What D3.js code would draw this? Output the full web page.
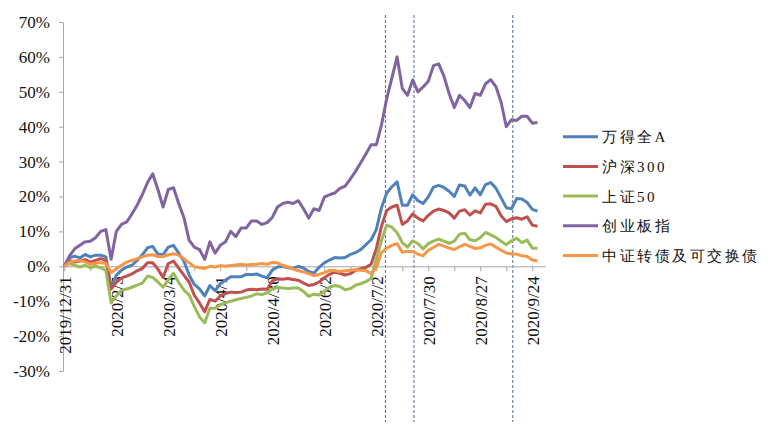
<!DOCTYPE html>
<html>
<head>
<meta charset="utf-8">
<script src="https://cdn.jsdelivr.net/npm/d3@7/dist/d3.min.js"></script>
<style>
  body { margin: 0; background: #fff; }
</style>
</head>
<body>
<div id="chart"></div>
<script>
// 交易日序号（每两个交易日取一个点）
const sampleDays = [0, 2, 4, 6, 8, 10, 12, 14, 16, 18, 20, 22, 24, 26, 28, 30, 32, 34, 36, 38,
  40, 42, 44, 46, 48, 50, 52, 54, 56, 58, 60, 62, 64, 66, 68, 70, 72, 74, 76, 78,
  80, 82, 84, 86, 88, 90, 92, 94, 96, 98, 100, 102, 104, 106, 108, 110, 112, 114, 116, 118,
  120, 122, 124, 126, 128, 130, 132, 134, 136, 138, 140, 142, 144, 146, 148, 150, 152, 154, 156, 158,
  160, 162, 164, 166, 168, 170, 172, 174, 176, 178, 180, 182];

// 坐标轴标签：每20个交易日一个
const tickDays = [0, 20, 40, 60, 80, 100, 120, 140, 160, 180];
const tickLabels = ["2019/12/31", "2020/2/5", "2020/3/4", "2020/4/1", "2020/4/30",
  "2020/6/2", "2020/7/2", "2020/7/30", "2020/8/27", "2020/9/24"];

// 虚线标记所在位置（交易日序号）
const eventDays = [123.5, 134.5, 172.5];

const seriesNames = ["万得全A", "沪深300", "上证50", "创业板指", "中证转债及可交换债"];
const seriesColors = ["#4F81BD", "#C0504D", "#9BBB59", "#8064A2", "#F79646"];

// 累计涨跌幅 (%)
const windA = [0, 2.5, 2.9, 2.4, 3.4, 2.7, 3.2, 3.2, 2.7, -6,
  -2.6, -1.1, -0.2, 0.3, 1.7, 3.3, 5.3, 5.7, 3.5, 3.3,
  5.5, 6, 3.8, 1.5, -2.5, -5.2, -6.5, -8.5, -5.5, -7,
  -5, -4, -3, -3, -3, -2.3, -2.4, -2.2, -2.8, -3.3,
  -1.1, -0.2, 0, -0.4, -0.6, 0, -0.5, -1.5, -2, -0.3,
  1, 1.8, 2.5, 2.4, 2.5, 3.4, 3.9, 4.8, 6.2, 7.6,
  10.5, 16.8, 21, 22.8, 24.2, 17.5, 17.5, 20.5, 18.8, 18,
  19.9, 22.7, 23.2, 22.6, 21.5, 20, 23.3, 23, 20.4, 22.5,
  20.5, 23.4, 24, 22.4, 19.6, 16.8, 16.5, 19.4, 19.3, 18.3,
  16.3, 15.8];

const hs300 = [0, 1.7, 1.2, 1.5, 1.9, 1.2, 1.7, 2.2, 1.7, -6.5,
  -4.6, -3.3, -2.8, -2.2, -1.3, -0.6, 1, 1, -0.8, -3.2,
  0.8, 1.5, -0.5, -2.5, -4.5, -8.3, -10.5, -13, -9.5, -10,
  -8.5, -7.8, -7.4, -7.5, -7.4, -6.8, -6.6, -6.7, -6.5, -6.6,
  -4.2, -3.6, -3.7, -3.5, -3.8, -4, -4.8, -5.5, -5.2, -4.5,
  -3.3, -2.3, -1.7, -2, -2.5, -2.1, -1.2, -0.7, -0.3, 0.6,
  5, 11.5, 16, 17, 17.5, 12, 13, 15, 13.8, 13,
  14.6, 15.8, 16.4, 16, 15.3, 13.8, 15.8, 16.2, 14.7, 15.9,
  15.3, 17.8, 17.9, 17.2, 14.5, 12.8, 13.6, 13.9, 13.5, 14.2,
  11.8, 11.5];

const sz50 = [0, 0.8, 0.3, -0.2, 0.3, -0.4, 0, -0.4, -1.2, -10.5,
  -8.5, -6.9, -6.5, -6, -5.4, -4.8, -2.8, -3.2, -4.5, -6,
  -3.8, -2, -4.6, -6.8, -8.2, -11.5, -14.5, -16.2, -12, -12,
  -11, -10.5, -10, -9.6, -9.2, -8.9, -8.5, -7.9, -8.1, -7.6,
  -6.5, -6, -6.2, -6.4, -6.2, -6.2, -7.2, -8.6, -8, -8.2,
  -7.2, -6, -5.5, -5.8, -6.7, -6.4, -5.4, -5, -4.4, -3.5,
  2, 7.4, 11.8, 11.2, 9.6, 6.8, 5.5, 7.3, 6.5, 5,
  6.5, 7.2, 7.8, 7.2, 6.6, 7.2, 9.2, 9.5, 7.6, 7.3,
  8.2, 9.7, 9, 8.3, 7.2, 6.2, 7.3, 8, 6.8, 7.5,
  5.2, 5.2];

const cyb = [0, 3, 5, 6, 7, 7.2, 8.2, 10, 10.5, 2,
  10, 12, 12.7, 15, 17.5, 20.5, 24, 26.5, 22, 17,
  22, 22.5, 18, 14, 7.5, 5.5, 4.8, 2, 7, 3.8,
  6, 7, 10, 8.5, 11, 11, 13, 13, 12, 12.5,
  14, 17, 18, 18.4, 18, 18.8, 16.5, 13.8, 16.5, 16,
  19.8, 20.5, 21, 22.3, 23, 25, 27.2, 29.7, 32.2, 34.8,
  34.8, 40.5, 48, 54, 60, 51, 49, 53.4, 50, 51.4,
  53, 57.5, 58, 54.5, 49.5, 45.5, 49, 47.5, 45.5, 49.5,
  49, 52.3, 53.5, 51.5, 47, 40, 42, 41.8, 43, 43,
  41, 41.2];

const cbond = [0, 1.2, 1.5, 1.7, 1.3, 0.6, 0.9, 1.1, 0.8, -1.8,
  -0.7, 0.3, 1.2, 1.7, 2.2, 2.7, 3.2, 3.3, 2.8, 2.8,
  3.3, 3.6, 3.2, 2.2, 1, -0.1, -0.4, -0.6, 0, -0.2,
  0.2, 0, 0.2, 0.4, 0.6, 0.4, 0.5, 0.6, 0.8, 0.6,
  1.1, 1, 0.3, -0.2, -0.8, -1.3, -1.6, -2.1, -2.7, -2.3,
  -1.8, -1.2, -1.2, -1.5, -1.3, -1.1, -1, -1.1, -1.3, -2,
  -0.5, 4, 5.2, 6, 6.5, 4, 4.3, 4.2, 3.5, 3,
  4.6, 5.4, 6.3, 5.8, 5.2, 4.8, 5.6, 6.3, 5.7, 5.1,
  5.3, 6, 6.4, 5.5, 4.6, 3.8, 3.5, 3.5, 3, 2.8,
  1.8, 1.5];

const yTicks = [-30, -20, -10, 0, 10, 20, 30, 40, 50, 60, 70];

const width = 770, height = 434;
const serif = '"Liberation Serif"';

const svg = d3.select("#chart").append("svg")
  .attr("width", width)
  .attr("height", height);

const x = d3.scaleLinear().domain([0, 185]).range([64.3, 545.3]);
const y = d3.scaleLinear().domain([-30, 70]).range([371, 22]);

// 纵轴
const yAxis = svg.append("g")
  .attr("transform", "translate(63,0)")
  .call(d3.axisLeft(y).tickValues(yTicks).tickSize(4).tickSizeOuter(0).tickPadding(9)
    .tickFormat(d => d + "%"));
yAxis.attr("font-family", "Liberation Serif");
yAxis.select(".domain").attr("stroke", "#a6a6a6");
yAxis.selectAll(".tick line").attr("stroke", "#a6a6a6");
yAxis.selectAll("text")
  .attr("fill", "#111")
  .style("font-family", serif)
  .style("font-size", "17px");

// 虚线标记
svg.append("g").selectAll("line")
  .data(eventDays)
  .join("line")
  .attr("x1", d => x(d)).attr("x2", d => x(d))
  .attr("y1", 15).attr("y2", 422)
  .attr("stroke", "#4a6a8e")
  .attr("stroke-width", 1)
  .attr("stroke-dasharray", "3,2");

// 横轴（位于0%处）
const xAxis = svg.append("g")
  .attr("transform", `translate(0,${y(0)})`)
  .call(d3.axisBottom(x).tickValues(d3.range(0, 181, 10)).tickSize(5).tickSizeOuter(0)
    .tickFormat(d => tickDays.includes(d) ? tickLabels[tickDays.indexOf(d)] : ""));
xAxis.attr("font-family", "Liberation Serif");
xAxis.select(".domain").attr("stroke", "#a6a6a6");
xAxis.selectAll(".tick line").attr("stroke", "#a6a6a6");
xAxis.selectAll("text")
  .attr("transform", "rotate(-90)")
  .attr("text-anchor", "end")
  .attr("x", -10)
  .attr("y", 0)
  .attr("dy", "0.35em")
  .attr("fill", "#111")
  .style("font-family", serif)
  .style("font-size", "17px");

// 折线
const allSeries = [windA, hs300, sz50, cyb, cbond];
const line = d3.line()
  .x((d, i) => x(sampleDays[i]))
  .y(d => y(d));

svg.append("g").selectAll("path")
  .data(allSeries)
  .join("path")
  .attr("fill", "none")
  .attr("stroke", (d, i) => seriesColors[i])
  .attr("stroke-width", 3)
  .attr("stroke-linejoin", "round")
  .attr("d", line);

// 图例
const legend = svg.append("g")
  .attr("transform", "translate(563,136.7)");

const items = legend.selectAll("g")
  .data(seriesNames)
  .join("g")
  .attr("transform", (d, i) => `translate(0,${i * 29.7})`);

items.append("line")
  .attr("x1", 0).attr("x2", 35)
  .attr("stroke", (d, i) => seriesColors[i])
  .attr("stroke-width", 3);

items.append("text")
  .attr("x", 39)
  .attr("dy", "0.36em")
  .attr("fill", "#111")
  .style("font-family", serif)
  .style("font-size", "15px")
  .style("letter-spacing", "2.5px")
  .text(d => d);
</script>
</body>
</html>
